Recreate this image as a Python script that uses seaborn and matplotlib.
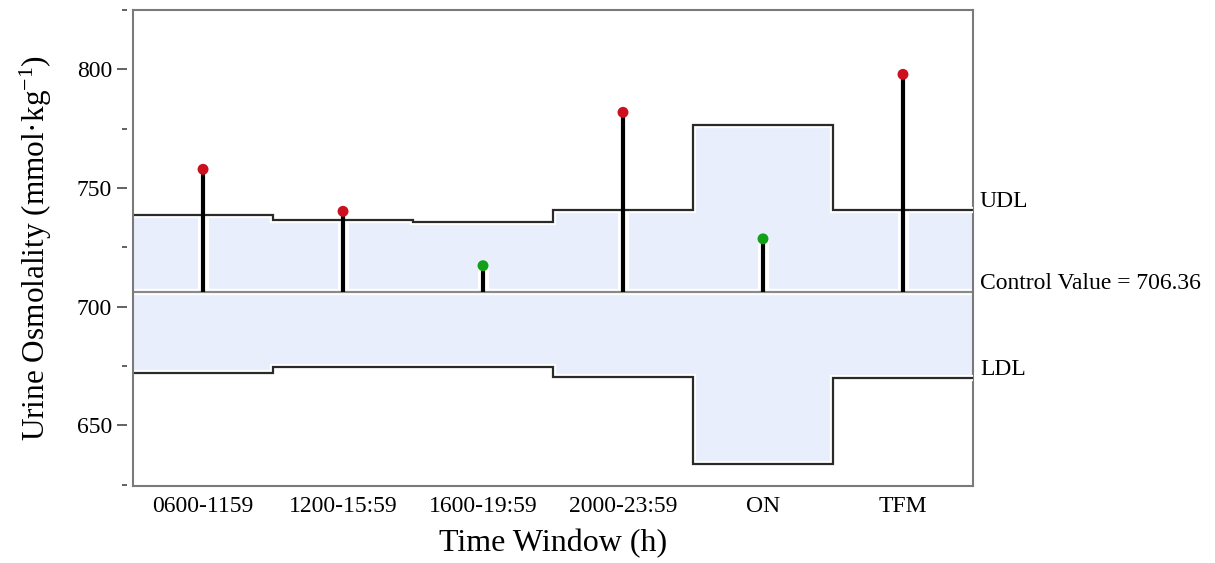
import numpy as np
import pandas as pd
import matplotlib
matplotlib.use("Agg")
import matplotlib.pyplot as plt
import matplotlib.patheffects as pe
import seaborn as sns

categories = ["0600-1159", "1200-15:59", "1600-19:59", "2000-23:59", "ON", "TFM"]
values = [757.9, 740.2, 717.3, 781.9, 728.6, 797.9]
udl = [738.5, 736.6, 735.6, 740.8, 776.6, 740.8]
ldl = [672.3, 674.8, 674.8, 670.3, 633.9, 669.9]
control = 706.36

sns.set_theme(style="white")
plt.rcParams["font.family"] = ["Liberation Serif", "DejaVu Serif"]
plt.rcParams["text.color"] = "black"
plt.rcParams["axes.labelcolor"] = "black"
plt.rcParams["xtick.color"] = "black"
plt.rcParams["ytick.color"] = "black"
plt.rcParams["mathtext.fontset"] = "custom"
plt.rcParams["mathtext.rm"] = "Liberation Serif"
plt.rcParams["mathtext.it"] = "Liberation Serif:italic"

df = pd.DataFrame({"x": np.arange(len(categories)), "value": values,
                   "udl": udl, "ldl": ldl})
df["status"] = np.where((df.value > df.udl) | (df.value < df.ldl), "out", "in")

fig = plt.figure(figsize=(12.15, 5.63), dpi=100)
ax = fig.add_axes([0.1095, 0.1368, 0.6913, 0.8454])

edges = np.arange(len(categories) + 1) - 0.5
ax.stairs(udl, edges, baseline=ldl, fill=True, color="#e8eefc", zorder=1)

# white halo behind stems (cuts the fill only)
ax.vlines(df.x, control, df.value, color="white", lw=8, zorder=1.5)

line_halo = [pe.Stroke(linewidth=4.5, foreground="white"), pe.Normal()]
cl = ax.axhline(control, color="#8a8a8a", lw=1.6, zorder=2)
cl.set_path_effects(line_halo)
for arr in (udl, ldl):
    st = ax.stairs(arr, edges, baseline=None, color="#2a2a2a", lw=1.6, zorder=3)
    st.set_path_effects(line_halo)

ax.vlines(df.x, control, df.value, color="black", lw=3, zorder=4)

sns.scatterplot(data=df, x="x", y="value", hue="status",
                palette={"out": "#cc1020", "in": "#12a018"},
                s=62, edgecolor="none", legend=False, zorder=5, ax=ax)

ax.set_xlim(-0.5, len(categories) - 0.5)
ax.set_ylim(624.5, 825)
ax.set_xticks(df.x)
ax.set_xticklabels(categories, fontsize=17)
ax.set_yticks([650, 700, 750, 800])
ax.set_yticks([625, 675, 725, 775, 825], minor=True)
ax.tick_params(axis="y", which="major", left=True, length=7.2, width=1.3,
               color="#555555", labelsize=17, pad=4)
ax.tick_params(axis="y", which="minor", left=True, length=3.6, width=1.3,
               color="#555555")
ax.tick_params(axis="x", bottom=False, pad=1)
ax.yaxis.set_ticks_position("left")
for s in ax.spines.values():
    s.set_color("#7a7a7a")
    s.set_linewidth(1.5)
# ticks detached from the frame: move left spine outward and hide it
ax.spines["left"].set_position(("outward", 4))
ax.spines["left"].set_visible(False)
ax.plot([0, 0], [0, 1], transform=ax.transAxes, color="#7a7a7a", lw=1.5,
        clip_on=False, zorder=6, solid_capstyle="projecting")

ax.set_xlabel("Time Window (h)", fontsize=23, labelpad=9)
ax.set_ylabel("Urine Osmolality (mmol·kg$^{\\mathrm{-1}}$)", fontsize=22.5, labelpad=16)

trans = ax.get_yaxis_transform()
for label, yv in [("UDL", udl[-1]), ("Control Value = 706.36", control), ("LDL", ldl[-1])]:
    ax.annotate(label, xy=(1.0, yv), xycoords=trans, xytext=(5, 6),
                textcoords="offset points", va="center", ha="left", fontsize=17)

fig.savefig("out.png", dpi=100)
